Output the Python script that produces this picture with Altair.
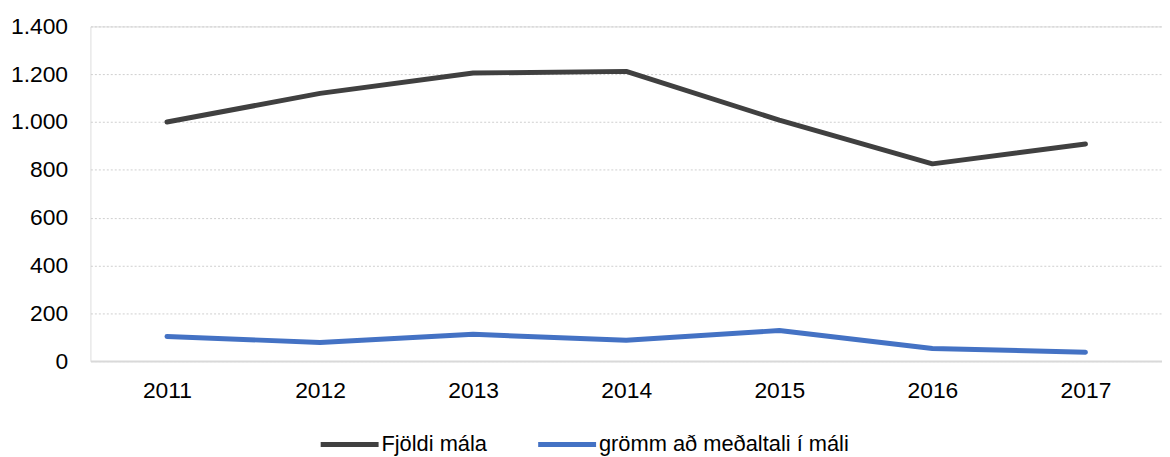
import altair as alt
import pandas as pd

years = ["2011", "2012", "2013", "2014", "2015", "2016", "2017"]
series_names = ["Fjöldi mála", "grömm að meðaltali í máli"]
fjoldi = [1000, 1120, 1205, 1212, 1008, 825, 908]
gromm = [103, 78, 112, 87, 128, 53, 37]
colors = ["#404040", "#4472C4"]
y_ticks = [0, 200, 400, 600, 800, 1000, 1200, 1400]

rows = []
for i, yr in enumerate(years):
    rows.append({"year": yr, "series": series_names[0], "value": fjoldi[i]})
    rows.append({"year": yr, "series": series_names[1], "value": gromm[i]})
df = pd.DataFrame(rows)

FONT = "Liberation Sans"

lines = alt.Chart(df).mark_line(strokeWidth=5, strokeCap="round", strokeJoin="round").encode(
    x=alt.X(
        "year:N",
        sort=years,
        scale=alt.Scale(type="point", padding=0.5),
        axis=alt.Axis(
            title=None,
            labelAngle=0,
            labelFontSize=23,
            labelFont=FONT,
            labelColor="#000000",
            labelPadding=19,
            ticks=False,
            domainColor="#d9d9d9",
            domainWidth=2,
            grid=False,
            zindex=1,
        ),
    ),
    y=alt.Y(
        "value:Q",
        scale=alt.Scale(domain=[0, 1400]),
        axis=alt.Axis(
            title=None,
            values=y_ticks,
            labelExpr="replace(format(datum.value, ','), ',', '.')",
            labelFontSize=23,
            labelFont=FONT,
            labelColor="#000000",
            labelPadding=23,
            ticks=False,
            domain=False,
            grid=True,
            gridColor="#cfcfcf",
            gridDash=[2, 2],
            gridWidth=1,
        ),
    ),
    color=alt.Color(
        "series:N",
        sort=series_names,
        scale=alt.Scale(domain=series_names, range=colors),
        legend=alt.Legend(
            title=None,
            orient="none",
            direction="horizontal",
            legendX=229,
            legendY=389,
            symbolType="stroke",
            symbolSize=3400,
            symbolStrokeWidth=5,
            labelFontSize=22,
            labelFont=FONT,
            labelColor="#000000",
            labelOffset=0,
            labelLimit=500,
            columnPadding=40,
        ),
    ),
)

chart = (
    lines
    .properties(
        width=1079,
        height=337,
        padding={"left": 83, "top": 17, "right": 0, "bottom": 95},
        autosize=alt.AutoSizeParams(type="none"),
    )
    .configure_view(stroke="transparent", strokeWidth=0)
    .configure_axisY(domain=False, ticks=False)
    .configure_axisX(grid=False, ticks=False)
    .configure(background="white")
)

chart.save("out.html", embed_options={"renderer": "svg", "actions": False})
